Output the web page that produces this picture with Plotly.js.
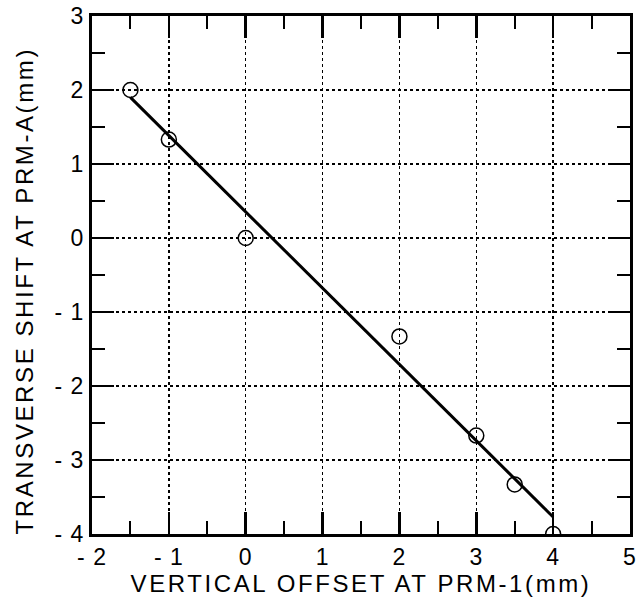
<!DOCTYPE html>
<html>
<head>
<meta charset="utf-8">
<script src="https://cdn.plot.ly/plotly-3.0.1.min.js"></script>
<style>
html,body{margin:0;padding:0;background:#fff;}
#chart{width:637px;height:598px;}
#chart .xtitle, #chart .annotation-text{letter-spacing:2.6px;}
#chart .xtick text, #chart .ytick text{letter-spacing:1px;}
</style>
</head>
<body>
<div id="chart"></div>
<script>
// Measured points
const offsetX = [-1.5, -1, 0, 2, 3, 3.5, 4];
const shiftY = [2.0, 1.33, 0.0, -1.33, -2.67, -3.33, -4.0];
// Fitted line endpoints
const fitX = [-1.5, 4];
const fitY = [1.9, -3.77];
// Tick labels
const xTickVals = [-2, -1, 0, 1, 2, 3, 4, 5];
const xTickText = ['- 2', '- 1', '0', '1', '2', '3', '4', '5'];
const yTickVals = [-4, -3, -2, -1, 0, 1, 2, 3];
const yTickText = ['- 4', '- 3', '- 2', '- 1', '0', '1', '2', '3'];
const xTitle = 'VERTICAL OFFSET AT PRM-1(mm)';
const yTitle = 'TRANSVERSE SHIFT AT PRM-A(mm)';

const tickFont = {family: 'Liberation Sans, Arial, sans-serif', size: 23, color: '#000'};
const titleFont = {family: 'Liberation Sans, Arial, sans-serif', size: 24, color: '#000'};

const traces = [
  {x: fitX, y: fitY, mode: 'lines', line: {color: '#000', width: 3}, hoverinfo: 'skip', showlegend: false},
  {x: offsetX, y: shiftY, mode: 'markers', marker: {symbol: 'circle-open', size: 15, color: '#000', line: {width: 1.5, color: '#000'}}, showlegend: false}
];

const axisCommon = {
  showline: true, linecolor: '#000', linewidth: 3, mirror: 'ticks',
  ticks: 'inside', ticklen: 22, tickwidth: 2.5, tickcolor: '#000',
  showgrid: true, gridcolor: '#000', gridwidth: 1.5, griddash: 'dot',
  zeroline: false, tickfont: tickFont, ticklabeloverflow: 'allow',
  minor: {dtick: 0.5, ticks: 'inside', ticklen: 13, tickwidth: 2, tickcolor: '#000', showgrid: false}
};

const layout = {
  width: 637, height: 598,
  margin: {l: 92, r: 7, t: 16, b: 64},
  paper_bgcolor: '#fff', plot_bgcolor: '#fff',
  xaxis: Object.assign({}, axisCommon, {
    range: [-2, 5], tickmode: 'array', tickvals: xTickVals, ticktext: xTickText,
    title: {text: xTitle, font: titleFont, standoff: 2}
  }),
  yaxis: Object.assign({}, axisCommon, {
    range: [-4, 3], tickmode: 'array', tickvals: yTickVals, ticktext: yTickText
  }),
  annotations: [{
    text: yTitle, xref: 'paper', yref: 'paper', x: -0.126, y: 0.47,
    xanchor: 'center', yanchor: 'middle', textangle: -90, showarrow: false, font: titleFont
  }]
};

Plotly.newPlot('chart', traces, layout, {staticPlot: true});
</script>
</body>
</html>
